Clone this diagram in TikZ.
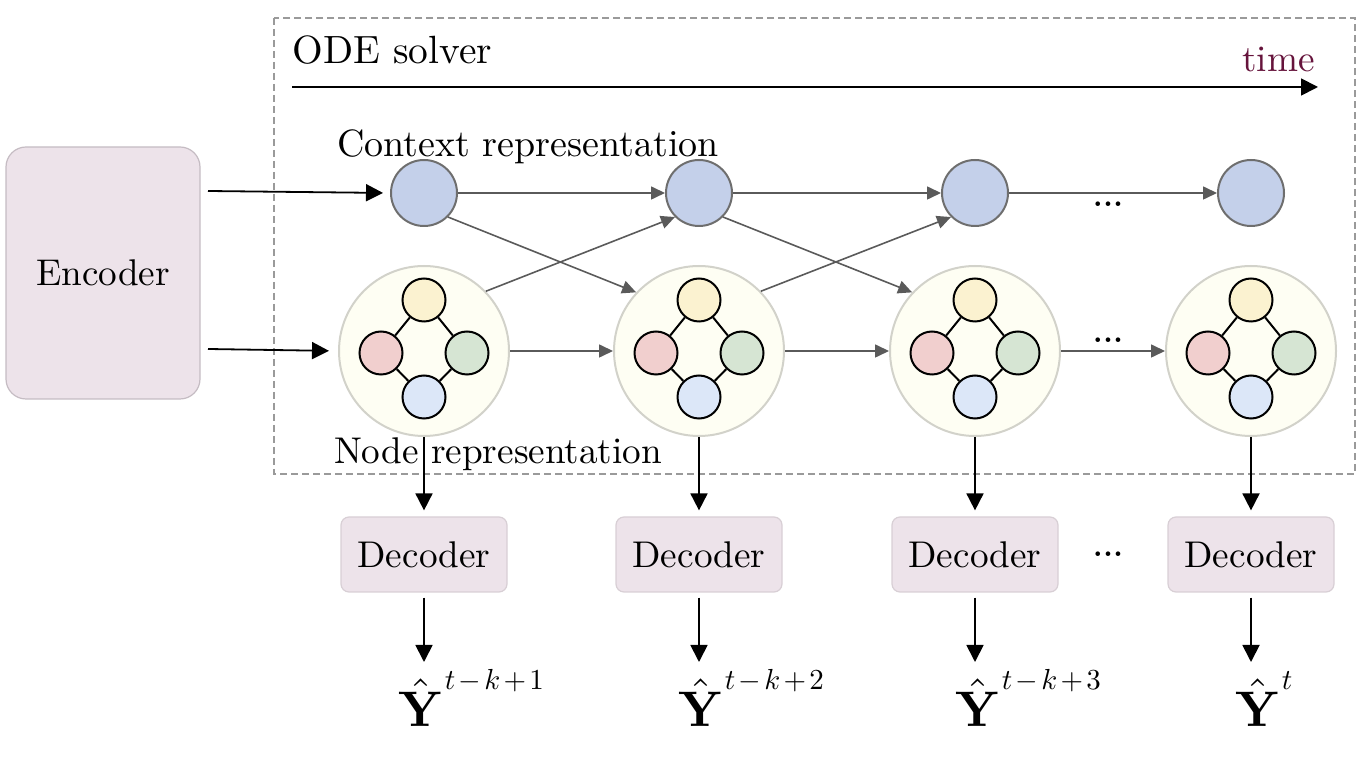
\documentclass[tikz,border=0pt]{standalone}
\usepackage{graphicx}
\usetikzlibrary{arrows.meta}
\definecolor{encfill}{HTML}{EDE3EA}
\definecolor{encdraw}{HTML}{C5BCC3}
\definecolor{decdraw}{HTML}{D8CFD5}
\definecolor{ctxfill}{HTML}{C4D0EA}
\definecolor{ctxdraw}{HTML}{6E6E6E}
\definecolor{bigfill}{HTML}{FEFEF3}
\definecolor{bigdraw}{HTML}{D2D2CA}
\definecolor{cyel}{HTML}{FBF2D0}
\definecolor{cpink}{HTML}{F1CFCE}
\definecolor{cgreen}{HTML}{D6E5D3}
\definecolor{cblue}{HTML}{DCE7F8}
\definecolor{garrow}{HTML}{5A5A5A}
\definecolor{boxgray}{HTML}{9A9A9A}
\definecolor{timecol}{RGB}{102,20,60}
\newcommand{\sctxt}[2][1.86]{\scalebox{#1}{#2}}
\newcommand{\yhatlbl}[1]{\scalebox{2.5}{$\hat{\mathbf{Y}}$}\hspace{0.8pt}\raisebox{18.5pt}{\scalebox{1.45}{$\medmuskip=2mu #1$}}}
\begin{document}
\begin{tikzpicture}[x=0.5pt,y=-0.5pt,
  font=\fontsize{10}{12}\selectfont,
  blk/.style={-{Triangle[length=8.5pt,width=8.5pt]}, line width=0.9pt, draw=black},
  gry/.style={-{Triangle[length=7pt,width=6.5pt]}, line width=0.8pt, draw=garrow},
  ctx/.style={circle, minimum size=33pt, inner sep=0pt, fill=ctxfill, draw=ctxdraw, line width=1pt},
  big/.style={circle, minimum size=85pt, inner sep=0pt, fill=bigfill, draw=bigdraw, line width=1pt},
  small/.style={circle, minimum size=21.5pt, inner sep=0pt, draw=black, line width=1pt},
  boxnode/.style={rounded corners=10pt, fill=encfill, draw=encdraw, line width=0.6pt, inner sep=0pt},
  decnode/.style={rounded corners=4pt, fill=encfill, draw=decdraw, line width=0.6pt, minimum width=83pt, minimum height=37.5pt, inner sep=0pt},
  edge/.style={line width=1pt, draw=black},
  dotsnode/.style={inner sep=0pt, font=\fontsize{16}{20}\selectfont\bfseries},
  lbl/.style={inner sep=0pt}
]
\useasboundingbox (0,0) rectangle (1366,758);

% ODE solver frame
\draw[boxgray, line width=0.7pt, dash pattern=on 3.3pt off 2.2pt] (274,18) rectangle (1355,474);
\node[lbl, anchor=base west] (ode) at (292,64) {\sctxt[1.97]{ODE solver}};
\node[lbl, anchor=base east, text=timecol] (time) at (1315,72) {\sctxt{time}};
\coordinate (tstart) at (292,87);
\coordinate (tend) at (1318,87);
\draw[blk] (tstart) -- (tend);

% Encoder
\node[boxnode, minimum width=97pt, minimum height=126pt] (enc) at (103,273) {\sctxt{Encoder}};

% labels
\node[lbl, anchor=base] (ctxlbl) at (528,157) {\sctxt[1.9]{Context representation}};
\node[lbl, anchor=base] (nodelbl) at (498,464) {\sctxt{Node representation}};

\foreach \i/\x in {1/424,2/699,3/975,4/1251} {
  \node[ctx] (c\i) at (\x,193) {};
  \node[big] (n\i) at (\x,351) {};
  \node[small, fill=cyel]   (t\i) at (\x,300) {};
  \node[small, fill=cpink]  (l\i) at (\x-43,353) {};
  \node[small, fill=cgreen] (r\i) at (\x+43,353) {};
  \node[small, fill=cblue]  (b\i) at (\x,397) {};
  \draw[edge] (t\i) -- (l\i);
  \draw[edge] (t\i) -- (r\i);
  \draw[edge] (l\i) -- (b\i);
  \draw[edge] (r\i) -- (b\i);
  \node[decnode] (d\i) at (\x,554.5) {\sctxt{Decoder}};
  \draw[blk, shorten >=3pt] (n\i) -- (d\i);
  \coordinate (y\i) at (\x,662);
  \draw[blk, shorten <=2.5pt] (d\i) -- (y\i);
}

% outputs
\node[lbl, anchor=base west] (o1) at (398,726) {\yhatlbl{t-k+1}};
\node[lbl, anchor=base west] (o2) at (678,726) {\yhatlbl{t-k+2}};
\node[lbl, anchor=base west] (o3) at (955,726) {\yhatlbl{t-k+3}};
\node[lbl, anchor=base west] (o4) at (1235,726) {\yhatlbl{t}};

% encoder outputs
\coordinate (e1) at (208,191);
\coordinate (e2) at (208,349);
\draw[blk, shorten >=3.5pt] (e1) -- (c1.west);
\draw[blk, shorten >=4.5pt] (e2) -- (n1.west);

% context chain
\draw[gry] (c1) -- (c2);
\draw[gry] (c2) -- (c3);
\draw[gry] (c3) -- (c4);
% node chain
\draw[gry] (n1) -- (n2);
\draw[gry] (n2) -- (n3);
\draw[gry] (n3) -- (n4);
% cross links
\draw[gry] (c1.-45) -- (n2.137);
\draw[gry] (n1.44) -- (c2.225);
\draw[gry] (c2.-45) -- (n3.137);
\draw[gry] (n2.44) -- (c3.225);

% dots
\node[dotsnode] (dc) at (1108,204) {...};
\node[dotsnode] (dn) at (1108,340) {...};
\node[dotsnode] (dd) at (1108,554) {...};
\end{tikzpicture}
\end{document}
